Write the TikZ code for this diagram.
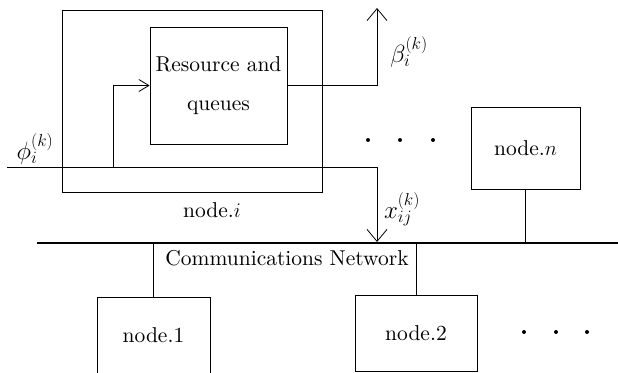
\documentclass[tikz,border=0pt]{standalone}
\usepackage{fontspec}
\setmainfont{lmroman10-regular}[Extension=.otf,ItalicFont=lmroman10-italic]
\usetikzlibrary{arrows.meta}
\begin{document}
\begin{tikzpicture}[x=1pt,y=-1pt,
  every node/.style={font=\fontsize{21.5}{25}\selectfont},
  mathlabel/.style={font=\fontsize{25}{30}\selectfont,inner sep=0pt},
  wire/.style={line width=0.8pt},
  bus/.style={line width=2.2pt},
  box/.style={draw,line width=0.8pt,inner sep=0pt},
  bigarrow/.style={-{Straight Barb[length=12pt,width=20pt,line width=0.8pt]}},
  smallarrow/.style={-{Straight Barb[length=10pt,width=12pt,line width=0.8pt]}},
  dot/.style={fill=black,draw=none}]
\useasboundingbox (0,0) rectangle (618,372);
\clip (0,0) rectangle (618,372);

% node i with its resource block
\node[box,minimum width=260,minimum height=182] (nodei) at (192,101) {};
\node[box,minimum width=137,minimum height=117,align=center] (res) at (218.5,85.5)
  {Resource and\\[14pt] queues};
\node (nodeilabel) at (212,210) {node.$i$};

% arrival stream, departure stream and traffic to the network
\coordinate (inflow) at (7,167);
\coordinate (tap) at (113,167);
\coordinate (turn) at (377,167);
\coordinate (outturn) at (377,85.5);
\coordinate (outtop) at (377,8);
\coordinate (netdrop) at (377,242);

\draw[wire] (inflow) -- (turn);
\draw[wire,smallarrow] (tap) |- (res.west);
\draw[wire,bigarrow] (res.east) -- (outturn) -- (outtop);
\draw[wire,bigarrow] (turn) -- (netdrop);

\node[mathlabel] (phi) at (35,149) {$\phi_i^{(k)}$};
\node[mathlabel] (beta) at (409,52) {$\beta_i^{(k)}$};
\node[mathlabel] (xij) at (402,209) {$x_{ij}^{(k)}$};

% the shared network bus
\coordinate (busL) at (37,243);
\coordinate (busR) at (618,243);
\draw[bus] (busL) -- (busR);
\node (netlabel) at (287,258) {Communications Network};

% the other nodes
\node[box,minimum width=109,minimum height=82] (noden) at (525.5,148) {node.$n$};
\node[box,minimum width=113,minimum height=90] (node1) at (153.5,342) {};
\node (node1label) at (153.5,335) {node.1};
\node[box,minimum width=122,minimum height=76] (node2) at (416,333) {node.2};

\draw[wire] (noden.south) -- (noden.south |- busL);
\draw[wire] (node1.north) -- (node1.north |- busL);
\draw[wire] (node2.north) -- (node2.north |- busL);

% ellipses
\foreach \px in {368,400,433} \fill[dot] (\px,140) circle (2);
\foreach \px in {524,556,587} \fill[dot] (\px,332) circle (2);
\end{tikzpicture}
\end{document}
